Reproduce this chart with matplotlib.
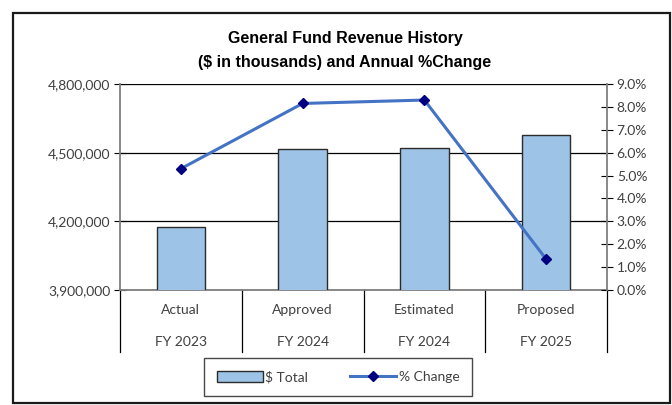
import matplotlib
matplotlib.use("Agg")
import matplotlib.pyplot as plt
from matplotlib.lines import Line2D
from matplotlib.patches import Patch, Rectangle
from matplotlib.ticker import FuncFormatter, MultipleLocator

# --- Data ---
stages = ["Actual", "Approved", "Estimated", "Proposed"]
fiscal_years = ["FY 2023", "FY 2024", "FY 2024", "FY 2025"]
totals = [4175000, 4516000, 4520000, 4577000]
pct_change = [5.3, 8.15, 8.3, 1.35]

plt.rcParams["font.family"] = ["Lato", "DejaVu Sans"]
label_color = "#404040"
fs = 10

fig = plt.figure(figsize=(6.72, 4.05), dpi=100)
fig.patch.set_facecolor("white")

# outer chart frame
fig.patches.append(Rectangle((13 / 672, 2 / 405), 657 / 672, 390 / 405,
                             transform=fig.transFigure, fill=False,
                             edgecolor="#1a1a1a", linewidth=1.6))

ax = fig.add_axes([120 / 672, 1 - 290 / 405, 487 / 672, 206 / 405])
x = list(range(len(stages)))

# --- Bars ($ total) ---
ax.bar(x, totals, width=0.4, color="#9DC3E6", edgecolor="#2b2b2b",
       linewidth=1.0, zorder=3)
ax.set_xlim(-0.5, len(stages) - 0.5)
ax.set_ylim(3900000, 4800000)
ax.yaxis.set_major_locator(MultipleLocator(300000))
ax.yaxis.set_major_formatter(FuncFormatter(lambda v, p: f"{v:,.0f}"))
ax.grid(axis="y", color="black", linewidth=0.9, zorder=1)
ax.tick_params(axis="y", direction="inout", length=8, color="black",
               labelsize=fs, labelcolor=label_color, pad=3)
ax.set_xticks([])
for side in ["top", "right"]:
    ax.spines[side].set_visible(False)
ax.spines["left"].set_color("#7f7f7f")
ax.spines["left"].set_linewidth(1.3)
ax.spines["bottom"].set_color("#7f7f7f")
ax.spines["bottom"].set_linewidth(1.3)

# multi-level category labels with separators
xt = ax.get_xaxis_transform()
for i in range(len(stages) + 1):
    ax.plot([i - 0.5, i - 0.5], [0, -0.30], transform=xt, color="black",
            linewidth=0.9, clip_on=False)
for i, (s, fy) in enumerate(zip(stages, fiscal_years)):
    ax.text(i, -0.095, s, transform=xt, ha="center", va="center",
            fontsize=fs, color=label_color)
    ax.text(i, -0.25, fy, transform=xt, ha="center", va="center",
            fontsize=fs, color=label_color)

# --- Line (% change) ---
ax2 = ax.twinx()
ax2.plot(x, pct_change, color="#4472C4", linewidth=2.2, marker="D",
         markersize=5.5, markerfacecolor="#000080", markeredgecolor="#000080",
         zorder=4)
ax2.set_ylim(0, 9)
ax2.yaxis.set_major_locator(MultipleLocator(1))
ax2.yaxis.set_major_formatter(FuncFormatter(lambda v, p: f"{v:.1f}%"))
ax2.tick_params(axis="y", direction="inout", length=8, color="black",
                labelsize=fs, labelcolor=label_color, pad=3)
for side in ["top", "left", "bottom"]:
    ax2.spines[side].set_visible(False)
ax2.spines["right"].set_color("#7f7f7f")
ax2.spines["right"].set_linewidth(1.3)

# --- Title ---
title_font = ["Liberation Sans Narrow", "Liberation Sans", "DejaVu Sans"]
fig.text(345 / 672, 1 - 39 / 405, "General Fund Revenue History",
         ha="center", va="center", fontsize=11.5, fontweight="bold",
         family=title_font)
fig.text(345 / 672, 1 - 62 / 405, "($ in thousands) and Annual %Change",
         ha="center", va="center", fontsize=11.5, fontweight="bold",
         family=title_font)

# --- Legend ---
handles = [
    Patch(facecolor="#9DC3E6", edgecolor="#2b2b2b", linewidth=1.0,
          label="$ Total"),
    Line2D([0], [0], color="#4472C4", linewidth=2.2, marker="D",
           markersize=5, markerfacecolor="#000080",
           markeredgecolor="#000080", label="% Change"),
]
fig.legend(handles=handles, loc="center", bbox_to_anchor=(338 / 672, 1 - 377 / 405),
           ncol=2, frameon=True, fancybox=False, edgecolor="#1a1a1a",
           fontsize=fs, handlelength=3.3, handleheight=0.8, handletextpad=0.2,
           columnspacing=3.0, borderpad=0.65, borderaxespad=0,
           labelcolor=label_color)
fig.legends[0].get_frame().set_boxstyle("square", pad=0.3)

fig.savefig("out.png", dpi=100)
